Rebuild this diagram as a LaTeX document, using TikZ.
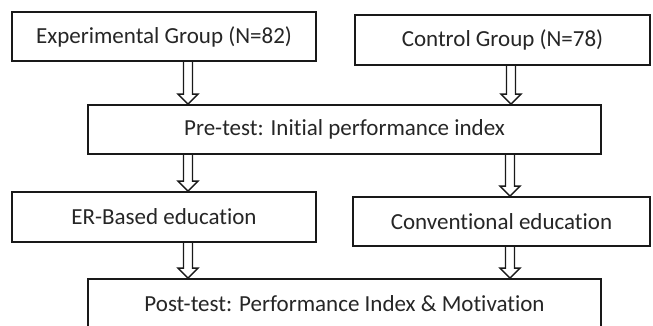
\documentclass[tikz,border=0pt]{standalone}
\usepackage{fontspec}
\setmainfont{Carlito}[Ligatures=NoCommon]
\usetikzlibrary{calc}
\tikzset{
  box/.style={draw=black!90, line width=1.8pt, fill=white, inner sep=0pt, text=black!85,
    font=\fontsize{23}{27}\selectfont},
  arrowline/.style={draw=black!90, line width=1.4pt, line join=miter}
}
\newcommand{\hollowarrow}[3]{%
  \draw[arrowline] ($(#1.south -| #3)+(-4.5,0)$) -- ($(#2.north -| #3)+(-4.5,-10)$)
    -- ($(#2.north -| #3)+(-10,-10)$) -- (#2.north -| #3)
    -- ($(#2.north -| #3)+(10,-10)$) -- ($(#2.north -| #3)+(4.5,-10)$)
    -- ($(#1.south -| #3)+(4.5,0)$);}
\begin{document}
\begin{tikzpicture}[x=1pt, y=-1pt]
\useasboundingbox (0,0) rectangle (653,326);
\node[box, minimum width=304pt, minimum height=49pt] (exp) at (164,36.5) {Experimental Group (N=82)};
\node[box, minimum width=295pt, minimum height=50pt] (ctrl) at (502.5,40) {Control Group (N=78)};
\node[box, minimum width=513pt, minimum height=49pt] (pre) at (344.5,129.5) {Pre-test: Initial performance index};
\node[box, minimum width=304pt, minimum height=50pt] (er) at (164,217) {ER-Based education};
\node[box, minimum width=297pt, minimum height=49pt] (conv) at (501.5,221.5) {Conventional education};
\node[box, minimum width=513pt, minimum height=50pt] (post) at (344.5,304) {Post-test: Performance Index \& Motivation};
\coordinate (xl) at (188,0);
\coordinate (xr) at (511,0);
\coordinate (xr2) at (510,0);
\hollowarrow{exp}{pre}{xl}
\hollowarrow{ctrl}{pre}{xr}
\hollowarrow{pre}{er}{xl}
\hollowarrow{pre}{conv}{xr2}
\hollowarrow{er}{post}{xl}
\hollowarrow{conv}{post}{xr2}
\end{tikzpicture}
\end{document}
